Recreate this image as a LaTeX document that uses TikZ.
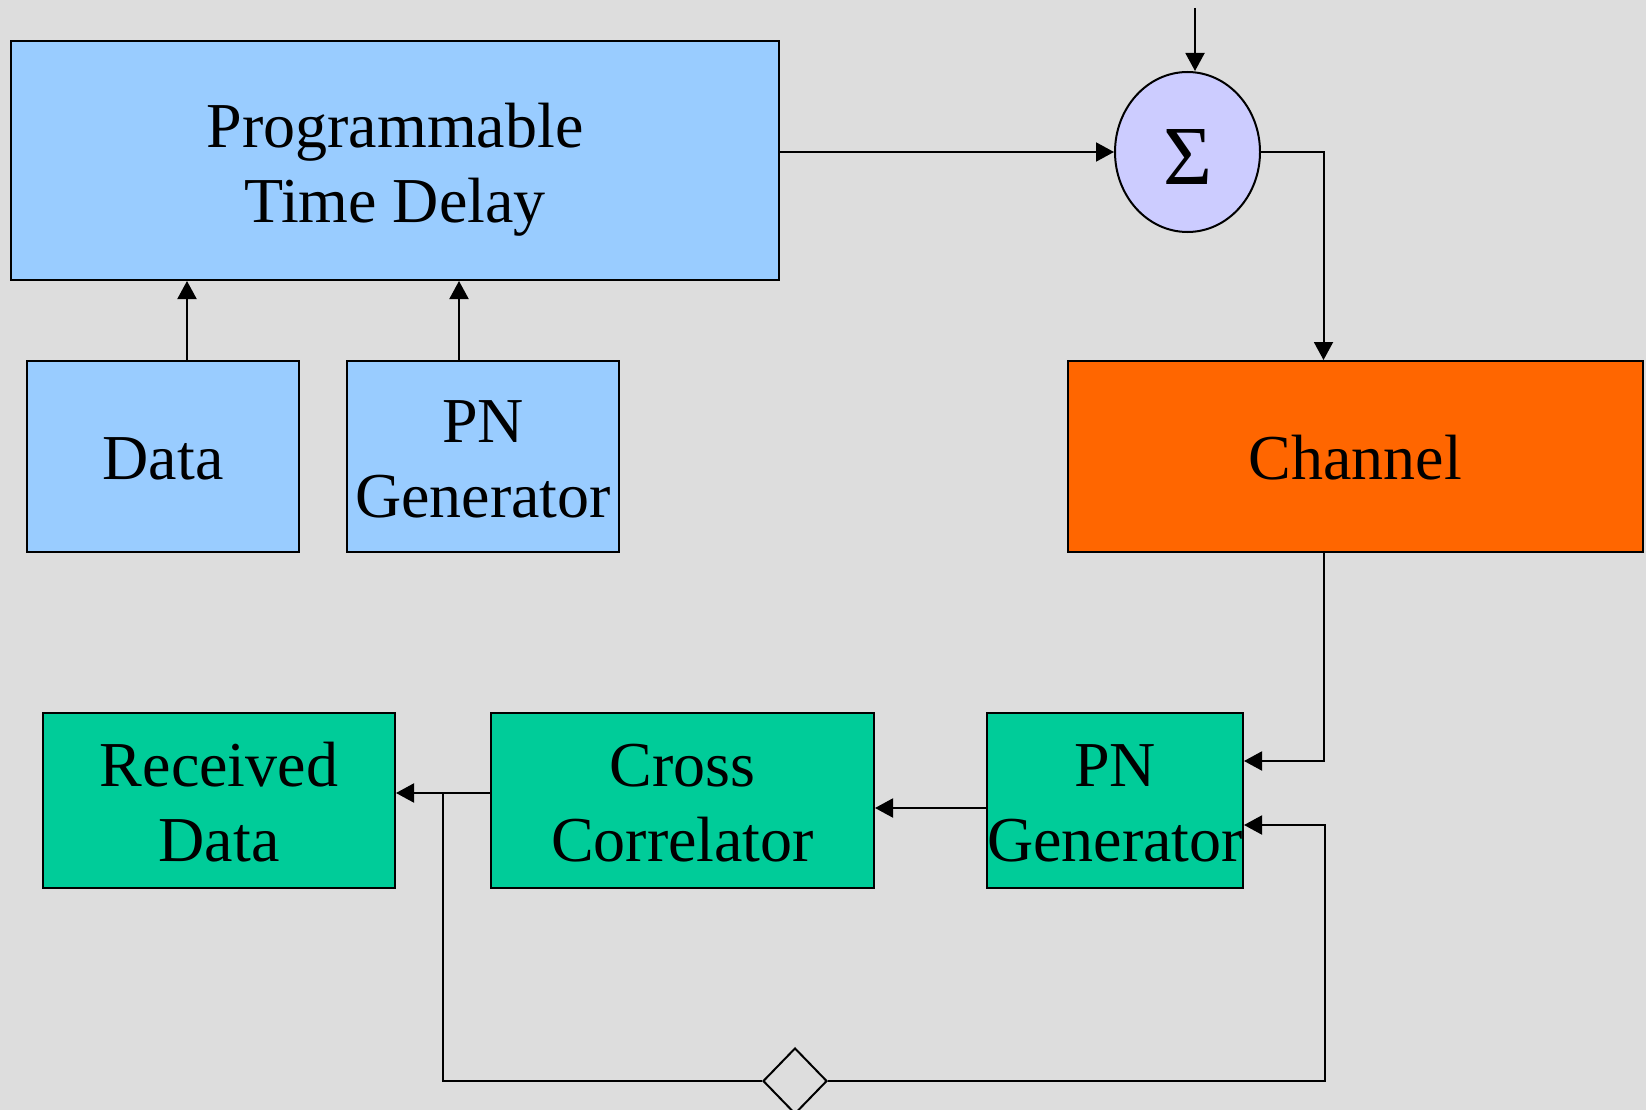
\documentclass[tikz,border=0pt]{standalone}
\usepackage{fontspec}
\setmainfont{Liberation Serif}
\usetikzlibrary{arrows.meta,shapes.geometric}

\definecolor{bgfill}{HTML}{DDDDDD}
\definecolor{txblue}{HTML}{99CCFF}
\definecolor{chorange}{HTML}{FF6600}
\definecolor{rxgreen}{HTML}{00CC99}
\definecolor{sumfill}{HTML}{CCCCFF}

% centred lines of block text, lowered by #1 while keeping the box size
\newcommand{\blocktext}[2]{\raisebox{-#1}[\height][\depth]{\begin{tabular}{@{}c@{}}#2\end{tabular}}}

\tikzset{
  block/.style={draw=black, line width=2pt, rectangle, inner sep=0pt,
    align=center, font=\fontsize{64pt}{75pt}\selectfont},
  txblock/.style={block, fill=txblue},
  chblock/.style={block, fill=chorange},
  rxblock/.style={block, fill=rxgreen},
  summer/.style={draw=black, line width=2pt, ellipse, fill=sumfill, inner sep=0pt,
    font=\fontsize{84pt}{84pt}\selectfont},
  decision/.style={draw=black, line width=2pt, diamond, inner sep=0pt, fill=bgfill},
  link/.style={draw=black, line width=2pt},
  arr/.style={link, -{Triangle[length=18pt,width=19pt]}}
}

\begin{document}
\begin{tikzpicture}[x=1pt, y=-1pt]
  % page and background
  \fill[bgfill] (0,0) rectangle (1646,1110);
  \useasboundingbox (0,0) rectangle (1646,1110);

  % transmitter side
  \node[txblock, minimum width=767.5pt, minimum height=239pt] (ptd) at (395,160.5)
    {\blocktext{9.5pt}{Programmable\\Time Delay}};
  \node[txblock, minimum width=272pt, minimum height=191pt] (data) at (163,456.5)
    {\blocktext{8.4pt}{Data}};
  \node[txblock, minimum width=272pt, minimum height=191pt] (pntx) at (483,456.5)
    {\blocktext{8.4pt}{PN\\Generator}};

  % summing junction
  \node[summer, minimum width=145pt, minimum height=160pt] (sig) at (1187.5,152)
    {\raisebox{-5pt}[\height][\depth]{Σ}};
  \coordinate (noise) at (1195,8);

  % channel
  \node[chblock, minimum width=575.5pt, minimum height=191pt] (chan) at (1355.25,456.5)
    {\blocktext{8.4pt}{Channel}};
  \coordinate (bus) at (1323.5,456.5);

  % receiver side
  \node[rxblock, minimum width=352pt, minimum height=175pt] (rd) at (219,800.5)
    {\blocktext{8.4pt}{Received\\Data}};
  \node[rxblock, minimum width=383pt, minimum height=175pt] (cc) at (682.5,800.5)
    {\blocktext{8.4pt}{Cross\\Correlator}};
  \node[rxblock, minimum width=256pt, minimum height=175pt] (pnrx) at (1115,800.5)
    {\blocktext{8.4pt}{PN\\Generator}};

  % feedback decision
  \node[decision, minimum width=64pt, minimum height=66pt] (dec) at (795,1081) {};
  \coordinate (tap) at (443,793);

  % connectors
  \draw[arr] (data.north -| 187,0) -- (ptd.south -| 187,0);
  \draw[arr] (pntx.north -| 459,0) -- (ptd.south -| 459,0);
  \draw[arr] (sig.west -| ptd.east) -- (sig.west);
  \draw[arr] (noise) -- (noise |- sig.north);
  \draw[arr] (sig.east) -| (chan.north -| bus);
  \draw[arr] (chan.south -| bus) |- ([yshift=39.5pt]pnrx.east);
  \draw[arr] ([yshift=-7.5pt]pnrx.west) -- ([yshift=-7.5pt]cc.east);
  \draw[arr] ([yshift=7.5pt]cc.west) -- ([yshift=7.5pt]rd.east);
  \draw[link] (tap) |- (dec.west);
  \draw[arr] (dec.east) -| ([xshift=81pt,yshift=-24.5pt]pnrx.east) -- ([yshift=-24.5pt]pnrx.east);
\end{tikzpicture}
\end{document}
